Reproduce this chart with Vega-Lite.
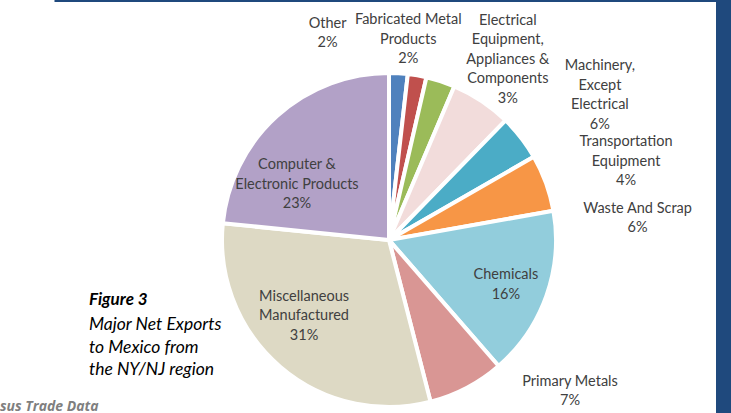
{
  "$schema": "https://vega.github.io/schema/vega-lite/v6.json",
  "width": 669,
  "height": 491,
  "autosize": {"type": "none"},
  "padding": {"left": 54.5, "top": -5.5, "right": 7.5, "bottom": -72.5},
  "background": "white",
  "config": {
    "view": {"stroke": "#1F497D", "strokeWidth": 15, "strokeDash": [1160, 4000], "fill": "white"},
    "text": {"font": "Lato", "fontSize": 14.5, "lineHeight": 19.5, "color": "#404040", "align": "center", "baseline": "middle"}
  },
  "title": {
    "text": "Figure 3",
    "subtitle": ["Major Net Exports", "to Mexico from", "the NY/NJ region"],
    "orient": "top",
    "anchor": "start",
    "frame": "group",
    "offset": 0,
    "dx": 34.5,
    "dy": 385,
    "font": "Lato",
    "fontSize": 17,
    "fontStyle": "italic",
    "fontWeight": "bold",
    "color": "black",
    "subtitleFont": "Lato",
    "subtitleFontSize": 17.5,
    "subtitleFontStyle": "italic",
    "subtitleFontWeight": "normal",
    "subtitleColor": "black",
    "subtitleLineHeight": 22.5,
    "subtitlePadding": 7
  },
  "data": {
    "values": [
      {"n": 1, "cat": "Other", "v": 1.8, "lab": ["Other", "2%"]},
      {"n": 2, "cat": "Fabricated Metal Products", "v": 1.8, "lab": ["Fabricated Metal", "Products", "2%"]},
      {"n": 3, "cat": "Electrical Equipment, Appliances & Components", "v": 2.8, "lab": ["Electrical", "Equipment,", "Appliances &", "Components", "3%"]},
      {"n": 4, "cat": "Machinery, Except Electrical", "v": 5.9, "lab": ["Machinery,", "Except", "Electrical", "6%"]},
      {"n": 5, "cat": "Transportation Equipment", "v": 4.4, "lab": ["Transportation", "Equipment", "4%"]},
      {"n": 6, "cat": "Waste And Scrap", "v": 5.5, "lab": ["Waste And Scrap", "6%"]},
      {"n": 7, "cat": "Chemicals", "v": 16.4, "lab": ["Chemicals", "16%"]},
      {"n": 8, "cat": "Primary Metals", "v": 7.4, "lab": ["Primary Metals", "7%"]},
      {"n": 9, "cat": "Miscellaneous Manufactured", "v": 30.6, "lab": ["Miscellaneous", "Manufactured", "31%"]},
      {"n": 10, "cat": "Computer & Electronic Products", "v": 23.4, "lab": ["Computer &", "Electronic Products", "23%"]}
    ]
  },
  "layer": [
    {
      "encoding": {
        "theta": {"field": "v", "type": "quantitative", "stack": true},
        "order": {"field": "n", "type": "quantitative", "sort": "ascending"},
        "detail": {"field": "cat", "type": "nominal"}
      },
      "layer": [
        {
          "mark": {"type": "arc", "outerRadius": 167, "stroke": "white", "strokeWidth": 4},
          "encoding": {
            "color": {
              "field": "cat",
              "type": "nominal",
              "legend": null,
              "scale": {
                "domain": ["Other", "Fabricated Metal Products", "Electrical Equipment, Appliances & Components", "Machinery, Except Electrical", "Transportation Equipment", "Waste And Scrap", "Chemicals", "Primary Metals", "Miscellaneous Manufactured", "Computer & Electronic Products"],
                "range": ["#4F81BD", "#C0504D", "#9BBB59", "#F2DCDB", "#4BACC6", "#F79646", "#92CDDC", "#D99694", "#DDD9C4", "#B2A1C7"]
              }
            }
          }
        },
        {"mark": {"type": "text", "radius": 205, "dx": -73, "dy": -11.75},
         "encoding": {"text": {"condition": {"test": "datum.n === 1", "field": "lab", "type": "nominal"}, "value": ""}}},
        {"mark": {"type": "text", "radius": 203, "dx": -15, "dy": -19.5},
         "encoding": {"text": {"condition": {"test": "datum.n === 2", "field": "lab", "type": "nominal"}, "value": ""}}},
        {"mark": {"type": "text", "radius": 200, "dx": 57, "dy": -29},
         "encoding": {"text": {"condition": {"test": "datum.n === 3", "field": "lab", "type": "nominal"}, "value": ""}}},
        {"mark": {"type": "text", "radius": 200, "dx": 100, "dy": -7.5},
         "encoding": {"text": {"condition": {"test": "datum.n === 4", "field": "lab", "type": "nominal"}, "value": ""}}},
        {"mark": {"type": "text", "radius": 200, "dx": 79, "dy": 24.6},
         "encoding": {"text": {"condition": {"test": "datum.n === 5", "field": "lab", "type": "nominal"}, "value": ""}}},
        {"mark": {"type": "text", "radius": 200, "dx": 60.6, "dy": 37.25},
         "encoding": {"text": {"condition": {"test": "datum.n === 6", "field": "lab", "type": "nominal"}, "value": ""}}},
        {"mark": {"type": "text", "radius": 125, "dx": -1, "dy": -6.25},
         "encoding": {"text": {"condition": {"test": "datum.n === 7", "field": "lab", "type": "nominal"}, "value": ""}}},
        {"mark": {"type": "text", "radius": 200, "dx": 88, "dy": -35.25},
         "encoding": {"text": {"condition": {"test": "datum.n === 8", "field": "lab", "type": "nominal"}, "value": ""}}},
        {"mark": {"type": "text", "radius": 115, "dx": -10, "dy": -30.5},
         "encoding": {"text": {"condition": {"test": "datum.n === 9", "field": "lab", "type": "nominal"}, "value": ""}}},
        {"mark": {"type": "text", "radius": 105, "dx": -21.6, "dy": 2.9},
         "encoding": {"text": {"condition": {"test": "datum.n === 10", "field": "lab", "type": "nominal"}, "value": ""}}}
      ]
    },
    {
      "data": {"values": [{"note": "sus Trade Data"}]},
      "mark": {"type": "text", "align": "left", "baseline": "alphabetic", "font": "Open Sans", "fontSize": 14, "fontStyle": "italic", "fontWeight": "bold", "color": "#7F7F7F"},
      "encoding": {"text": {"field": "note", "type": "nominal"}, "x": {"value": -54.5}, "y": {"value": 416.5}}
    }
  ]
}
